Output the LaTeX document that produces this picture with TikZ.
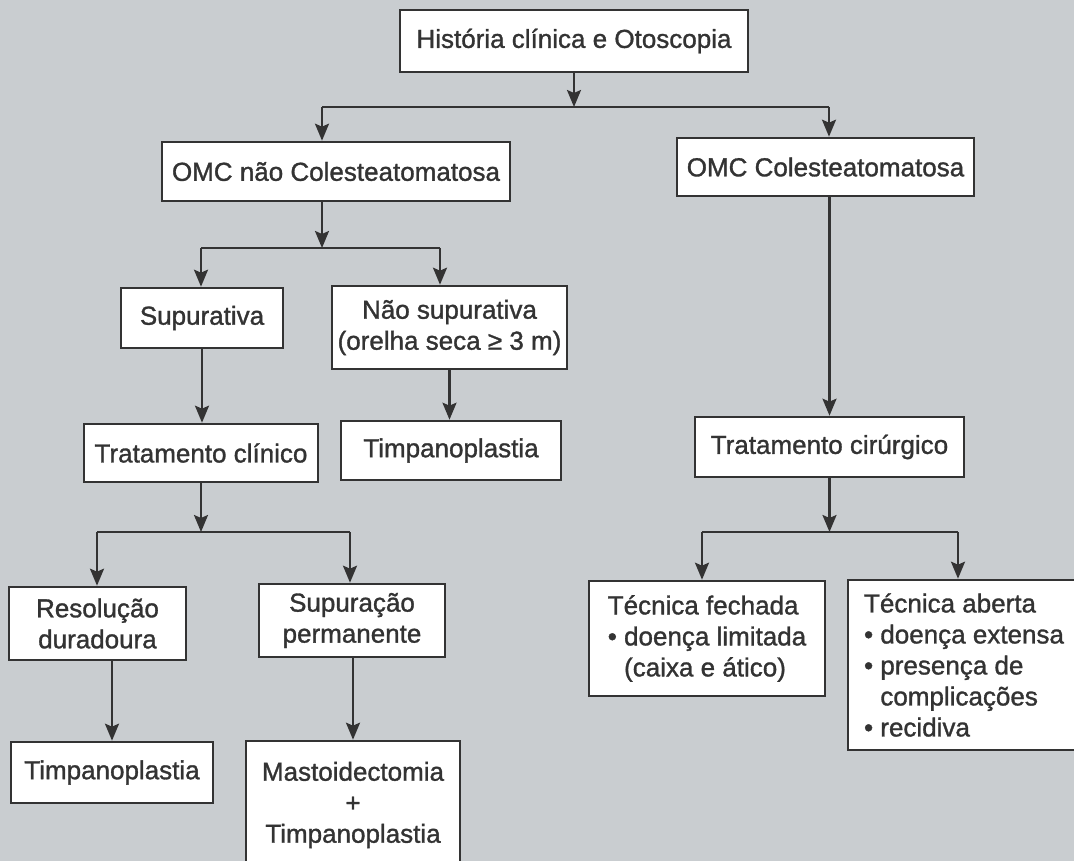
\documentclass[tikz,border=0pt]{standalone}
\usepackage{fontspec}
\setmainfont{Liberation Sans}[BoldFont={Liberation Sans},BoldFeatures={FakeBold=1.2}]
\usetikzlibrary{arrows.meta,calc}
\definecolor{bg}{HTML}{C9CDD0}
\definecolor{ink}{HTML}{333333}
\begin{document}
\begin{tikzpicture}[x=1pt,y=-1pt,
  nbox/.style={draw=ink, line width=2.6pt, fill=white, text=ink, inner sep=0pt,
    align=center, font=\fontsize{26}{31}\selectfont\bfseries},
  arr/.style={draw=ink, line width=2.4pt, -{Stealth[length=17pt,width=14pt,inset=3pt]}},
  ln/.style={draw=ink, line width=2.4pt}]
\useasboundingbox (0,0) rectangle (1074,861);
\clip (0,0) rectangle (1074,861);
\fill[bg] (0,0) rectangle (1074,861);

\node[nbox, minimum width=348pt, minimum height=62pt] (A) at (574,41) {História clínica e Otoscopia};
\node[nbox, minimum width=348pt, minimum height=59pt] (B) at (336,171.5) {OMC não Colesteatomatosa};
\node[nbox, minimum width=297pt, minimum height=58pt] (C) at (825.5,167) {OMC Colesteatomatosa};
\node[nbox, minimum width=162pt, minimum height=60pt] (D) at (202,318) {Supurativa};
\node[nbox, minimum width=235pt, minimum height=83pt] (E) at (449.5,327.5) {Não supurativa\\(orelha seca ≥ 3 m)};
\node[nbox, minimum width=234pt, minimum height=58pt] (F) at (201,453) {Tratamento clínico};
\node[nbox, minimum width=220pt, minimum height=59pt] (G) at (451,450.5) {Timpanoplastia};
\node[nbox, minimum width=269pt, minimum height=60pt] (H) at (829.5,447) {Tratamento cirúrgico};
\node[nbox, minimum width=177pt, minimum height=73pt] (I) at (97.5,623.5) {Resolução\\duradoura};
\node[nbox, minimum width=186pt, minimum height=73pt] (J) at (352,620.5) {Supuração\\permanente};
\node[nbox, minimum width=202pt, minimum height=61pt] (K) at (112,772.5) {Timpanoplastia};
\node[nbox, minimum width=214pt, minimum height=128pt] (L) at (353,805) {Mastoidectomia\\+\\Timpanoplastia};
\node[nbox, minimum width=236pt, minimum height=115pt, align=left] (M) at (707,638.5)
  {Técnica fechada\\• doença limitada\\\hphantom{• }(caixa e ático)};
\node[nbox, minimum width=232pt, minimum height=170pt, align=left] (N) at (964,665)
  {Técnica aberta\\• doença extensa\\• presença de\\\hphantom{• }complicações\\• recidiva};

\coordinate (j1) at (574,107);
\coordinate (j1l) at (322,107);
\coordinate (j1r) at (829,107);
\coordinate (j2) at (322,248);
\coordinate (j2l) at (201,248);
\coordinate (j2r) at (440,248);
\coordinate (j3l) at (97,532);
\coordinate (j3r) at (350,532);
\coordinate (j4l) at (702,532);
\coordinate (j4r) at (958,532);

\draw[arr] (A.south) -- (j1);
\draw[ln] (j1l) -- (j1r);
\draw[arr] (j1l) -- (j1l |- B.north);
\draw[arr] (j1r) -- (j1r |- C.north);

\draw[arr] (j2 |- B.south) -- (j2);
\draw[ln] (j2l) -- (j2r);
\draw[arr] (j2l) -- (j2l |- D.north);
\draw[arr] (j2r) -- (j2r |- E.north);

\draw[arr] (D.south) -- (D.south |- F.north);
\draw[arr] (E.south) -- (E.south |- G.north);
\draw[arr] (H.north |- C.south) -- (H.north);

\draw[arr] (F.south) -- (F.south |- j3l);
\draw[ln] (j3l) -- (j3r);
\draw[arr] (j3l) -- (j3l |- I.north);
\draw[arr] (j3r) -- (j3r |- J.north);

\draw[arr] (K.north |- I.south) -- (K.north);
\draw[arr] (L.north |- J.south) -- (L.north);

\draw[arr] (H.south) -- (H.south |- j4l);
\draw[ln] (j4l) -- (j4r);
\draw[arr] (j4l) -- (j4l |- M.north);
\draw[arr] (j4r) -- (j4r |- N.north);
\end{tikzpicture}
\end{document}
